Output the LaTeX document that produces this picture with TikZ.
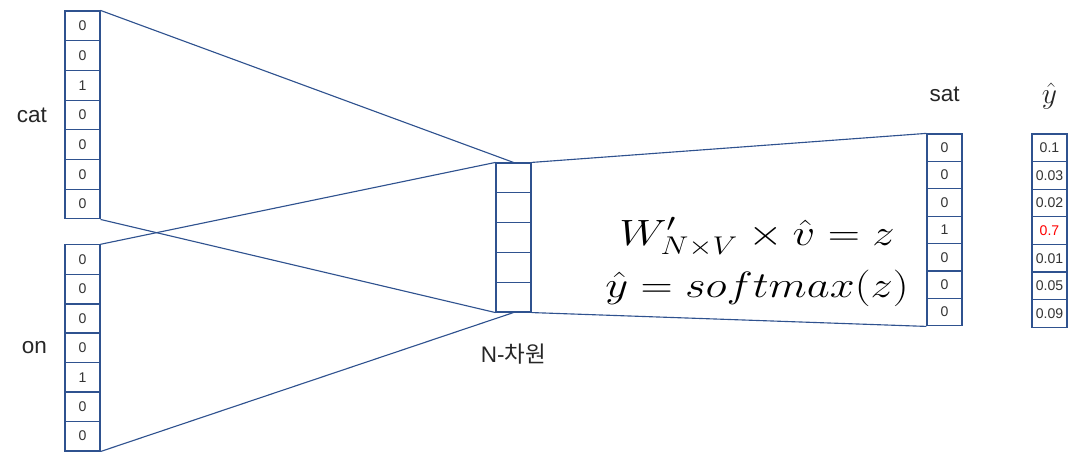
\documentclass[tikz,border=0pt]{standalone}
\usepackage{fix-cm}
\usepackage{fontspec}
\setmainfont{Liberation Sans}
\newfontfamily\korfont{Noto Sans CJK KR}
\usetikzlibrary{positioning}
\definecolor{boxblue}{RGB}{47,82,143}
\tikzset{
  cell/.style={draw=boxblue, line width=0.8pt, minimum width=0.875cm,
    inner sep=0pt, font=\fontsize{10}{11}\selectfont, text=black!80},
  wordcell/.style={cell, minimum height=0.7425cm},
  hidcell/.style={cell, minimum height=0.745cm},
  outcell/.style={cell, minimum height=0.6875cm},
  link/.style={draw=boxblue, line width=0.8pt},
  wordlabel/.style={font=\fontsize{16}{19}\selectfont, text=black!85},
  eqtext/.style={font=\fontsize{26}{37}\selectfont, inner sep=0pt, align=center}
}
\begin{document}
\begin{tikzpicture}[x=0.025cm, y=-0.025cm]
    \useasboundingbox (0,0) rectangle (1074,452);
    % Vecteurs d'entree
    \foreach \v [count=\i] in {0,0,1,0,0,0,0}
        \node[wordcell] (cat\i) at (82.5,{11+29.7*(\i-0.5)}) {\v};
    \foreach \v [count=\i] in {0,0,0,0,1,0,0}
        \node[wordcell] (on\i) at (82.5,{245+29.4*(\i-0.5)}) {\v};
    \node[wordlabel, left=9pt of cat4] (catlab) {cat};
    \node[wordlabel, left=9pt of on4] (onlab) {on};
    % Couche cachee
    \foreach \i in {1,...,5}
        \node[hidcell] (h\i) at (513.5,{163+29.8*(\i-0.5)}) {};
    \node[wordlabel, below=19pt of h5] (hidlab) {N-{\korfont 차원}};
    % Sortie
    \foreach \v [count=\i] in {0,0,0,1,0,0,0}
        \node[outcell] (sat\i) at (944.5,{134+27.4*(\i-0.5)}) {\v};
    \foreach \v [count=\i] in {0.1,0.03,0.02,{\color{red}0.7},0.01,0.05,0.09}
        \node[outcell] (y\i) at (1049.5,{134+27.6*(\i-0.5)}) {\v};
    \node[wordlabel, above=19pt of sat1] (satlab) {sat};
    \node[wordlabel, font=\fontsize{21}{24}\selectfont, above=14pt of y1] (ylab) {$\hat{y}$};
    % Liens
    \draw[link] (cat1.north east) -- (h1.north);
    \draw[link] (cat7.south east) -- (h5.south west);
    \draw[link] (on1.north east) -- (h1.north west);
    \draw[link] (on7.south east) -- (h5.south);
    \draw[link] (h1.north east) -- (sat1.north west);
    \draw[link] (h5.south east) -- (sat7.south west);
    % Equations
    \node[eqtext] (eq) at (757,262)
        {\scalebox{1.22}[1]{$W'_{N\times V}\times\hat{v}=z$}\\
         \scalebox{1.22}[1]{$\hat{y}=softmax(z)$}};
\end{tikzpicture}
\end{document}
